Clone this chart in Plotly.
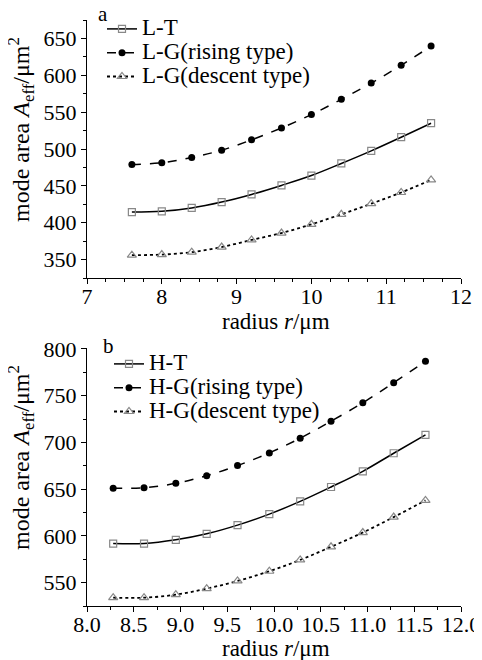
import plotly.graph_objects as go

# Panel a data
r_a = [7.6, 8.0, 8.4, 8.8, 9.2, 9.6, 10.0, 10.4, 10.8, 11.2, 11.6]
LT = [414.5, 415.4, 420.0, 428.0, 438.4, 450.6, 464.0, 480.4, 497.5, 516.0, 535.0]
LG_rise = [479.0, 481.3, 488.5, 498.4, 512.4, 528.6, 546.7, 567.4, 589.5, 613.5, 639.6]
LG_desc = [355.9, 356.8, 360.0, 367.0, 376.6, 386.0, 397.8, 411.4, 425.8, 441.0, 458.0]

# Panel b data
r_b = [8.28, 8.61, 8.95, 9.28, 9.61, 9.95, 10.28, 10.61, 10.95, 11.28, 11.62]
HT = [591.8, 591.8, 595.8, 602.2, 611.5, 623.3, 636.9, 652.3, 669.1, 688.4, 708.1]
HG_rise = [650.9, 651.6, 656.2, 664.4, 675.2, 688.8, 704.5, 722.7, 742.4, 763.9, 786.8]
HG_desc = [533.9, 533.9, 537.1, 543.6, 551.8, 562.2, 574.3, 588.3, 603.6, 620.1, 638.0]

names_a = ["L-T", "L-G(rising type)", "L-G(descent type)"]
names_b = ["H-T", "H-G(rising type)", "H-G(descent type)"]

OFF = 8  # page body margin
W, H = 482 - OFF, 660 - OFF
FONT = "Liberation Serif, Times New Roman, serif"
FS_TICK = 22
FS_LEG = 23
FS_YT = 24
FS_XT = 23

def px_x(p):
    return (p - OFF) / W

def px_y(p):
    return 1 - (p - OFF) / H

styles = [
    dict(line=dict(color="black", width=1.5, dash="solid"),
         marker=dict(symbol="square-open", size=7, color="#888888", line=dict(width=1.2))),
    dict(line=dict(color="black", width=1.5, dash="dash"),
         marker=dict(symbol="circle", size=7, color="black")),
    dict(line=dict(color="black", width=1.8, dash="dot"),
         marker=dict(symbol="triangle-up-open", size=8, color="#888888", line=dict(width=1.2))),
]

def legname(n):
    return '<span style="font-size:%dpx">%s</span>' % (FS_LEG, n)

fig = go.Figure()
for name, ys, st in zip(names_a, [LT, LG_rise, LG_desc], styles):
    fig.add_trace(go.Scatter(x=r_a, y=ys, name=legname(name), mode="lines+markers",
                             line_shape="spline", xaxis="x", yaxis="y",
                             legend="legend", **st))
for name, ys, st in zip(names_b, [HT, HG_rise, HG_desc], styles):
    fig.add_trace(go.Scatter(x=r_b, y=ys, name=legname(name), mode="lines+markers",
                             line_shape="spline", xaxis="x2", yaxis="y2",
                             legend="legend2", **st))

axis_common = dict(showline=True, linecolor="black", linewidth=1.2, showgrid=False,
                   zeroline=False, ticks="outside", ticklen=5, tickwidth=1.2,
                   tickcolor="black", tickfont=dict(family=FONT, size=FS_TICK, color="black"),
                   mirror=False, automargin=False)

xd = [px_x(87), px_x(461)]
leg_common = dict(xanchor="left", yanchor="top", bgcolor="rgba(0,0,0,0)",
                  font=dict(family=FONT, size=16, color="black"),
                  tracegroupgap=0, itemwidth=30)
fig.update_layout(
    width=W, height=H,
    margin=dict(l=0, r=0, t=0, b=0, pad=0, autoexpand=False),
    paper_bgcolor="white", plot_bgcolor="white",
    font=dict(family=FONT, color="black"),
    xaxis=dict(domain=xd, range=[7, 12], dtick=1, tick0=7, anchor="y",
               ticklabelstandoff=-7,
               minor=dict(dtick=0.25, ticklen=3, tickcolor="black", ticks="outside"),
               **axis_common),
    yaxis=dict(domain=[px_y(278), px_y(20)], range=[325, 675], dtick=50, tick0=350,
               anchor="x",
               minor=dict(dtick=25, ticklen=3, tickcolor="black", ticks="outside"),
               **axis_common),
    xaxis2=dict(domain=xd, range=[8, 12], dtick=0.5, tick0=8, tickformat=".1f",
                anchor="y2", ticklabelstandoff=-7,
                minor=dict(dtick=0.25, ticklen=3, tickcolor="black", ticks="outside"),
                **axis_common),
    yaxis2=dict(domain=[px_y(606), px_y(348)], range=[525, 801], dtick=50, tick0=550,
                anchor="x2",
                minor=dict(dtick=25, ticklen=3, tickcolor="black", ticks="outside"),
                **axis_common),
    legend=dict(x=px_x(102), y=px_y(12), **leg_common),
    legend2=dict(x=px_x(109), y=px_y(347), **leg_common),
    showlegend=True,
)

ytitle = "mode area <i>A</i><sub>eff</sub>/μm<sup>2</sup>"
xtitle = "radius <i>r</i>/μm"
ann = [
    dict(text=ytitle, x=px_x(21), y=px_y(130), textangle=-90, size=FS_YT),
    dict(text=ytitle, x=px_x(21), y=px_y(458), textangle=-90, size=FS_YT),
    dict(text=xtitle, x=px_x(276), y=px_y(321), textangle=0, size=FS_XT),
    dict(text=xtitle, x=px_x(276), y=px_y(648), textangle=0, size=FS_XT),
    dict(text="a", x=px_x(103), y=px_y(14), textangle=0, size=21),
    dict(text="b", x=px_x(108), y=px_y(346), textangle=0, size=21),
]
for a in ann:
    sz = a.pop("size")
    fig.add_annotation(xref="paper", yref="paper", xanchor="center", yanchor="middle",
                       showarrow=False, font=dict(family=FONT, size=sz, color="black"), **a)

fig.write_html("out.html")
